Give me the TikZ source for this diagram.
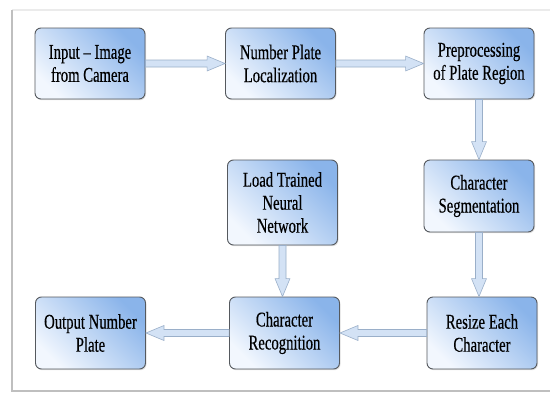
\documentclass[tikz,border=0pt]{standalone}
\usepackage{fontspec}
\setmainfont{Liberation Serif}
\newfontfamily\boxfont{Liberation Serif}[FakeStretch=0.70,FakeBold=0.4]
\usetikzlibrary{shadows,calc}
\definecolor{boxdark}{HTML}{8AB4EA}
\definecolor{boxlight}{HTML}{F2F7FE}
\definecolor{boxline}{HTML}{55595E}
\definecolor{arrfill}{HTML}{D3E2F5}
\definecolor{arrline}{HTML}{9AAFC9}
\tikzset{
 stepbox/.style={draw=boxline, line width=0.9pt, rounded corners=6pt, minimum width=110pt, minimum height=71pt, top color=boxdark, bottom color=boxlight, shading angle=-45, align=center, font=\boxfont\fontsize{21}{23}\selectfont, drop shadow={opacity=0.25, shadow xshift=1pt, shadow yshift=-1.2pt}, inner sep=2pt},
 fatarrow/.style={draw=arrline, fill=arrfill, line width=0.6pt, line join=miter, to path={let \p1=(\tikztostart), \p2=(\tikztotarget), \n1={atan2(\y2-\y1,\x2-\x1)}, \n2={veclen(\x2-\x1,\y2-\y1)}, \n3={\n2-18pt} in ([shift={(\p1)},rotate=\n1]0pt,3.5pt) -- ([shift={(\p1)},rotate=\n1]\n3,3.5pt) -- ([shift={(\p1)},rotate=\n1]\n3,7.5pt) -- ([shift={(\p1)},rotate=\n1]\n2,0pt) -- ([shift={(\p1)},rotate=\n1]\n3,-7.5pt) -- ([shift={(\p1)},rotate=\n1]\n3,-3.5pt) -- ([shift={(\p1)},rotate=\n1]0pt,-3.5pt) -- cycle}},
 frameline/.style={line width=1.5pt}
}
\begin{document}
\begin{tikzpicture}[x=1pt,y=-1pt]
\useasboundingbox (0,0) rectangle (550,394);
\fill[white] (0,0) rectangle (550,394);
\coordinate (ftl) at (12,10);
\coordinate (ftr) at (550,10);
\coordinate (fbl) at (12,391);
\coordinate (fbr) at (550,391);
\draw[frameline, draw=black!8] (ftl) -- (ftr);
\draw[frameline, draw=black!25] (ftl) -- (fbl) -- (fbr);

\node[stepbox] (b1) at (90,63.5) {Input – Image\\from Camera};
\node[stepbox] (b2) at (280.5,63.5) {Number Plate\\Localization};
\node[stepbox] (b3) at (479,63.5) {Preprocessing\\of Plate Region};
\node[stepbox, minimum height=85pt] (load) at (282.5,202.5) {Load Trained\\Neural\\Network};
\node[stepbox, minimum height=72pt] (seg) at (479,196) {Character\\Segmentation};
\node[stepbox, minimum height=72pt] (out) at (90.5,333) {Output Number\\Plate};
\node[stepbox, minimum height=72pt] (rec) at (284.5,333) {Character\\Recognition};
\node[stepbox, minimum height=72pt] (res) at (482,333) {Resize Each\\Character};

\draw[fatarrow] (b1.east) to (b2.west);
\draw[fatarrow] (b2.east) to (b3.west);
\draw[fatarrow] (b3.south) to (b3.south |- seg.north);
\draw[fatarrow] (seg.south) to (seg.south |- res.north);
\draw[fatarrow] (load.south) to (load.south |- rec.north);
\draw[fatarrow] (res.west) to (rec.east);
\draw[fatarrow] (rec.west) to (out.east);
\end{tikzpicture}
\end{document}
